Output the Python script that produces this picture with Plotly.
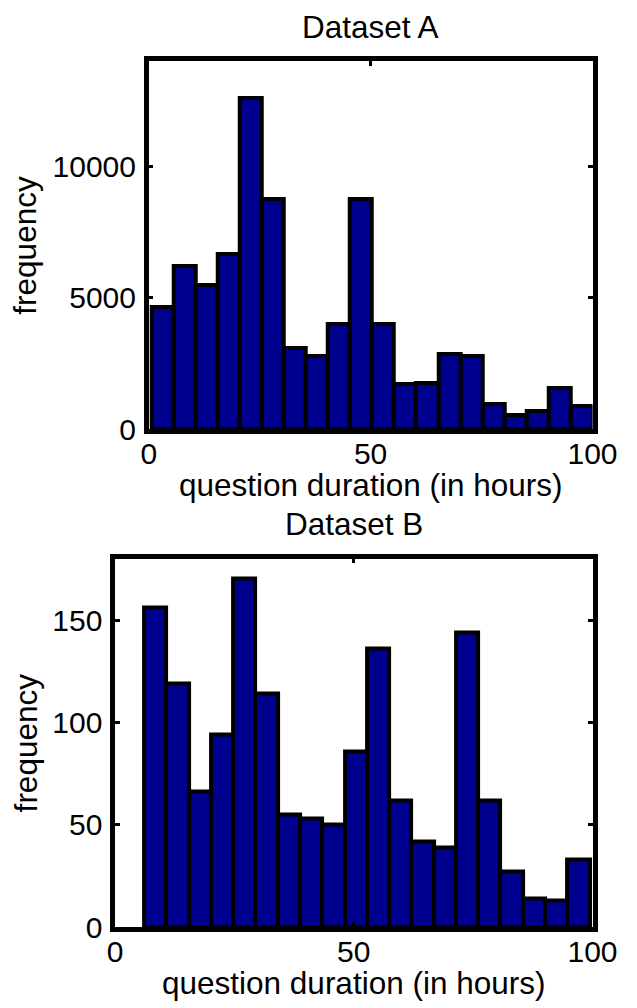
import plotly.graph_objects as go

# ---------------- data ----------------
x_ticks = [0, 50, 100]

# Dataset A: 20 histogram bins (centres in hours) and frequencies
a_centers = [3.18, 8.15, 13.11, 18.08, 23.04, 28.01, 32.97, 37.94, 42.90, 47.87,
             52.83, 57.80, 62.76, 67.73, 72.69, 77.66, 82.62, 87.59, 92.55, 97.52]
a_bin_width = 4.965
a_counts = [4650, 6200, 5500, 6650, 12600, 8750, 3100, 2800, 4000, 8750,
            4000, 1700, 1750, 2850, 2800, 950, 550, 680, 1550, 900]
a_yticks = [0, 5000, 10000]
a_yrange = [0, 14000]

# Dataset B
b_centers = [8.43, 13.10, 17.76, 22.43, 27.09, 31.76, 36.42, 41.09, 45.75, 50.42,
             55.08, 59.75, 64.41, 69.08, 73.74, 78.41, 83.07, 87.74, 92.40, 97.07]
b_bin_width = 4.665
b_counts = [156, 119, 66, 94, 170, 114, 55, 53, 50, 86,
            136, 62, 42, 39, 144, 62, 27, 14, 13, 33]
b_yticks = [0, 50, 100, 150]
b_yrange = [0, 180]

titles = ["Dataset A", "Dataset B"]
xlabel = "question duration (in hours)"
ylabel = "frequency"

# ---------------- layout geometry (pixels) ----------------
W, H = 637, 1008
FONT = "Liberation Sans, Arial, Helvetica, sans-serif"
TICK_SIZE = 30
LABEL_SIZE = 31.5
BAR_COLOR = "#00008F"

def px_x(p):
    return p / W

def px_y(p):
    return 1 - p / H

# axes boxes: (left, right, top, bottom) in px
boxA = (140, 608, 54, 428.5)
boxB = (104.5, 608, 560, 935)

fig = go.Figure()
fig.add_trace(go.Bar(x=a_centers, y=a_counts, width=a_bin_width,
                     marker=dict(color=BAR_COLOR, line=dict(color="black", width=4)),
                     xaxis="x", yaxis="y", showlegend=False))
fig.add_trace(go.Bar(x=b_centers, y=b_counts, width=b_bin_width,
                     marker=dict(color=BAR_COLOR, line=dict(color="black", width=4)),
                     xaxis="x2", yaxis="y2", showlegend=False))

axis_common = dict(showline=True, linewidth=4.5, linecolor="black", mirror="allticks",
                   ticks="inside", ticklen=5, tickwidth=3, tickcolor="black",
                   showgrid=False, zeroline=False,
                   tickfont=dict(family=FONT, size=TICK_SIZE, color="black"))

def xaxis(box, anchor):
    return dict(axis_common, domain=[px_x(box[0]), px_x(box[1])], anchor=anchor,
                range=[0, 100], tickvals=x_ticks, ticktext=[str(v) for v in x_ticks],
                ticklabelstandoff=-6)

def yaxis(box, anchor, rng, tv):
    return dict(axis_common, domain=[px_y(box[3]), px_y(box[2])], anchor=anchor,
                range=rng, tickvals=tv, ticktext=[str(v) for v in tv],
                ticklabelstandoff=2)

annotations = []
for box, title in ((boxA, titles[0]), (boxB, titles[1])):
    cx = (box[0] + box[1]) / 2
    cy = (box[2] + box[3]) / 2
    # title above axes
    annotations.append(dict(text=title, xref="paper", yref="paper",
                            x=px_x(cx), y=px_y(box[2] - 24 - 0.35 * LABEL_SIZE),
                            xanchor="center", yanchor="middle", showarrow=False,
                            font=dict(family=FONT, size=LABEL_SIZE, color="black")))
    # x label
    annotations.append(dict(text=xlabel, xref="paper", yref="paper",
                            x=px_x(cx), y=px_y(box[3] + 68 - 0.35 * LABEL_SIZE),
                            xanchor="center", yanchor="middle", showarrow=False,
                            font=dict(family=FONT, size=LABEL_SIZE, color="black")))
    # y label
    annotations.append(dict(text=ylabel, xref="paper", yref="paper",
                            x=px_x(10), y=px_y(cy), textangle=-90,
                            xanchor="center", yanchor="middle", showarrow=False,
                            font=dict(family=FONT, size=LABEL_SIZE, color="black")))

fig.update_layout(
    width=W, height=H,
    margin=dict(l=0, r=0, t=0, b=0),
    paper_bgcolor="white", plot_bgcolor="white",
    bargap=0,
    xaxis=xaxis(boxA, "y"),
    yaxis=yaxis(boxA, "x", a_yrange, a_yticks),
    xaxis2=xaxis(boxB, "y2"),
    yaxis2=yaxis(boxB, "x2", b_yrange, b_yticks),
    annotations=annotations,
    font=dict(family=FONT, color="black"),
)

fig.write_html("out.html")
